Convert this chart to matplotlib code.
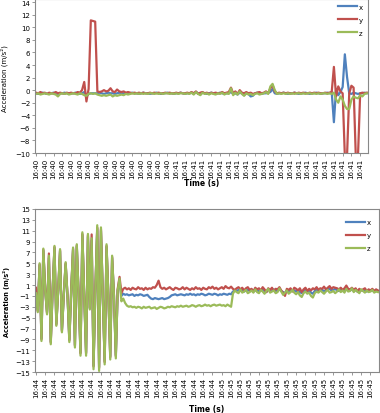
import matplotlib.pyplot as plt
import numpy as np

# ---- Data ----
# top chart: 16:40 -> 16:41, 4 samples per tick label
top_x = [-0.5, -0.6, -0.5, -0.4, -0.5, -0.6, -0.5, -0.5,
         -0.4, -0.5, -0.6, -0.5, -0.5, -0.4, -0.5, -0.6,
         -0.5, -0.5, -0.4, -0.5, -0.6, -0.5, -0.3, -1.0,
         -0.6, -0.5, -0.5, -0.5, -0.5, -0.4, -0.5, -0.6,
         -0.5, -0.4, -0.5, -0.5, -0.6, -0.5, -0.4, -0.5,
         -0.5, -0.6, -0.5, -0.5, -0.4, -0.5, -0.5, -0.6,
         -0.5, -0.4, -0.5, -0.5, -0.6, -0.5, -0.5, -0.4,
         -0.5, -0.6, -0.5, -0.5, -0.4, -0.5, -0.5, -0.6,
         -0.5, -0.5, -0.4, -0.5, -0.6, -0.5, -0.5, -0.4,
         -0.6, -0.3, -0.5, -0.7, -0.4, -0.5, -0.6, -0.5,
         -0.4, -0.5, -0.6, -0.5, -0.4, -0.5, -0.6, -0.5,
         -0.5, -0.3, -0.6, -0.5, -0.7, -0.4, -0.5, -0.8,
         -0.5, -0.6, -1.0, -0.9, -0.5, -0.4, -0.5, -0.6,
         -0.5, -0.5, -0.4, -0.3, 0.2, -0.5, -0.6, -0.5,
         -0.5, -0.4, -0.5, -0.6, -0.5, -0.5, -0.4, -0.5,
         -0.6, -0.5, -0.5, -0.4, -0.5, -0.6, -0.5, -0.5,
         -0.4, -0.5, -0.6, -0.5, -0.5, -0.4, -0.5, -0.3,
         -5.1, 0.2, -0.8, -0.3, 0.5, 5.7, 2.1, -0.5,
         -0.6, -0.4, -0.5, -0.6, -0.5, -0.5, -0.4, -0.5]
top_y = [-0.4, -0.5, -0.3, -0.5, -0.4, -0.6, -0.4, -0.5,
         -0.5, -0.3, -0.5, -0.4, -0.5, -0.6, -0.4, -0.5,
         -0.4, -0.5, -0.5, -0.3, -0.4, 0.0, 1.3, -1.8,
         0.2, 11.1, 11.0, 10.9, -0.2, -0.3, -0.2, 0.0,
         -0.2, -0.1, 0.3, -0.2, -0.3, 0.1, -0.2, -0.3,
         -0.2, -0.4, -0.3, -0.4, -0.5, -0.4, -0.5, -0.4,
         -0.5, -0.4, -0.5, -0.5, -0.4, -0.5, -0.4, -0.5,
         -0.4, -0.5, -0.5, -0.4, -0.5, -0.4, -0.5, -0.5,
         -0.4, -0.5, -0.4, -0.5, -0.5, -0.4, -0.5, -0.3,
         -0.5, -0.2, -0.6, -0.4, -0.3, -0.5, -0.4, -0.6,
         -0.4, -0.5, -0.4, -0.5, -0.5, -0.3, -0.5, -0.4,
         -0.3, 0.4, -0.5, -0.2, -0.6, 0.0, -0.4, -0.5,
         -0.3, -0.5, -0.4, -0.6, -0.5, -0.4, -0.3, -0.5,
         -0.4, -0.2, -0.5, 0.3, 0.8, -0.2, -0.5, -0.4,
         -0.5, -0.4, -0.5, -0.4, -0.5, -0.5, -0.4, -0.5,
         -0.4, -0.5, -0.4, -0.5, -0.5, -0.4, -0.5, -0.4,
         -0.5, -0.4, -0.5, -0.5, -0.4, -0.5, -0.4, -0.3,
         3.7, -1.0, 0.6, -0.2, -0.5, -10.5, -10.5, -0.5,
         0.7, 0.4, -10.5, -10.5, -0.5, -0.4, -0.5, -0.4]
top_z = [-0.6, -0.5, -0.7, -0.6, -0.5, -0.6, -0.7, -0.5,
         -0.6, -0.7, -1.0, -0.6, -0.5, -0.6, -0.5, -0.7,
         -0.6, -0.5, -0.6, -0.7, -0.5, -0.6, -0.8, -0.9,
         -0.6, -0.5, -0.6, -0.5, -0.7, -0.8, -0.9, -0.8,
         -0.9, -0.8, -0.7, -1.0, -0.8, -0.9, -0.8, -0.7,
         -0.8, -0.6, -0.7, -0.6, -0.5, -0.6, -0.5, -0.6,
         -0.5, -0.6, -0.5, -0.6, -0.5, -0.5, -0.6, -0.5,
         -0.6, -0.5, -0.6, -0.5, -0.5, -0.6, -0.5, -0.6,
         -0.5, -0.6, -0.5, -0.5, -0.6, -0.5, -0.6, -0.4,
         -0.7, -0.3, -0.6, -0.8, -0.4, -0.6, -0.5, -0.7,
         -0.5, -0.6, -0.7, -0.5, -0.6, -0.4, -0.7, -0.5,
         -0.6, 0.3, -0.8, -0.4, -0.7, -0.2, -0.6, -0.9,
         -0.5, -0.7, -0.6, -0.8, -0.6, -0.5, -0.7, -0.6,
         -0.5, -0.3, -0.6, 0.6, 1.0, 0.0, -0.6, -0.5,
         -0.6, -0.5, -0.6, -0.5, -0.6, -0.5, -0.6, -0.5,
         -0.5, -0.6, -0.5, -0.6, -0.5, -0.5, -0.6, -0.5,
         -0.6, -0.5, -0.6, -0.5, -0.5, -0.6, -0.5, -0.6,
         -0.4, -1.5, -2.0, -1.0, -1.5, -2.5, -3.0, -3.0,
         -1.5, -1.0, -1.2, -1.3, -0.8, -1.0, -0.6, -0.5]
top_labels = ['16:40'] * 16 + ['16:41'] * 22

# bottom chart: 16:44 -> 16:45, 5 samples per tick label
bot_x = [0.3, -3.6, 4.6, -8.8, 7.3, 0.1, -4.0, 6.0, -9.4, 0.0,
         7.8, -6.1, 0.0, 7.2, -7.3, -1.0, 4.8, -1.0, -9.0, 0.0,
         7.5, -10.0, 8.1, -1.0, -11.4, 10.2, -1.0, -11.4, 9.9, -3.3,
         9.2, -13.8, 0.0, 11.4, -14.1, 11.0, -1.0, -13.0, 8.0, -1.0,
         -12.1, 6.0, -1.0, -11.9, 0.0, 1.5, -1.0, -0.6, -0.8, -0.7,
         -0.9, -0.8, -0.7, -1.0, -0.8, -0.9, -0.7, -0.8, -1.0, -0.9,
         -0.8, -1.2, -1.5, -1.6, -1.4, -1.5, -1.6, -1.5, -1.4, -1.6,
         -1.5, -1.4, -1.2, -0.9, -0.8, -0.7, -0.9, -0.8, -0.7, -0.8,
         -0.9, -0.7, -0.8, -0.6, -0.8, -0.7, -0.9, -0.7, -0.8, -0.6,
         -0.7, -0.9, -0.8, -0.6, -0.7, -0.8, -0.6, -0.7, -0.9, -0.7,
         -0.8, -0.6, -0.7, -0.8, -0.6, -0.7, -0.2, 0.0, -0.1, 0.1,
         -0.1, 0.1, -0.2, 0.0, 0.1, -0.1, 0.2, -0.2, 0.0, 0.1,
         -0.2, 0.0, 0.1, -0.1, -0.3, 0.1, 0.0, -0.1, 0.2, -0.1,
         0.0, 0.2, -0.1, -0.3, -0.5, 0.0, -0.2, 0.1, -0.1, 0.0,
         -0.2, 0.1, -0.3, -0.5, -0.1, 0.2, -0.2, 0.0, -0.4, -0.6,
         -0.1, 0.1, -0.2, 0.0, 0.1, -0.1, 0.0, 0.2, 0.3, 0.0,
         0.1, 0.3, 0.0, -0.1, 0.2, -0.1, 0.0, 0.4, 0.1, 0.0,
         0.2, -0.1, 0.1, -0.2, 0.0, 0.1, -0.1, 0.0, -0.2, 0.1,
         -0.1, 0.0, -0.2, 0.1, -0.1]
bot_y = [0.5, -3.8, 4.8, -9.0, 7.5, 0.3, -4.2, 6.8, -9.6, 0.2,
         8.0, -6.3, 0.2, 7.4, -7.5, -0.8, 5.0, -0.8, -9.2, 0.3,
         7.7, -10.2, 8.3, -0.8, -11.6, 10.4, -0.8, -11.6, 10.2, -3.2,
         10.3, -14.0, 0.3, 11.6, -14.3, 11.3, -0.8, -13.2, 8.2, -0.8,
         -12.3, 6.2, -0.8, -12.1, 0.3, 2.5, -0.5, 0.3, 0.5, 0.2,
         0.4, 0.1, 0.5, 0.3, 0.2, 0.6, 0.3, 0.4, 0.1, 0.5,
         0.2, 0.4, 0.3, 0.6, 0.5, 1.0, 1.8, 0.6, 0.3, 0.5,
         0.2, 0.4, 0.6, 0.3, 0.1, 0.5, 0.4, 0.2, 0.3, 0.6,
         0.2, 0.5, 0.3, 0.1, 0.4, 0.2, 0.6, 0.3, 0.4, 0.1,
         0.5, 0.3, 0.2, 0.6, 0.4, 0.7, 0.3, 0.5, 0.2, 0.4,
         0.6, 0.3, 0.8, 0.5, 0.4, 0.7, 0.3, 0.1, 0.4, 0.6,
         0.2, 0.5, 0.0, 0.4, 0.6, 0.1, 0.3, -0.2, 0.5, 0.2,
         0.4, 0.0, 0.6, 0.2, -0.3, 0.4, 0.1, 0.5, -0.1, 0.3,
         0.2, 0.6, 0.0, -0.5, -1.0, 0.3, 0.1, 0.4, -0.2, 0.5,
         0.3, 0.0, 0.4, -0.3, 0.2, 0.5, -0.1, 0.3, 0.0, 0.4,
         0.2, 0.6, 0.1, 0.4, 0.3, 0.7, 0.2, 0.5, 0.8, 0.3,
         0.6, 0.5, 0.4, 0.2, 0.5, 0.1, 0.4, 0.9, 0.3, 0.2,
         0.5, 0.1, 0.4, -0.2, 0.3, 0.0, 0.2, 0.4, -0.1, 0.2,
         0.0, 0.3, -0.1, 0.2, 0.0]
bot_z = [-0.5, -4.0, 5.0, -9.3, 7.7, 0.0, -4.4, 6.4, -9.9, 0.0,
         8.2, -6.5, 0.0, 7.6, -7.7, -1.0, 5.2, -1.0, -9.5, 0.0,
         7.9, -10.5, 8.5, -1.0, -12.0, 10.7, -1.0, -12.0, 10.4, -3.5,
         9.6, -14.5, 0.0, 12.0, -14.8, 11.6, -1.0, -13.6, 8.5, -1.0,
         -12.7, 6.4, -1.0, -12.5, 0.0, 2.2, -2.0, -1.5, -2.3, -2.8,
         -3.0, -2.9, -3.1, -3.0, -3.2, -3.0, -3.1, -3.3, -3.0, -3.2,
         -3.1, -3.0, -3.3, -3.2, -3.1, -3.4, -3.2, -3.0, -3.1, -3.3,
         -3.2, -3.0, -3.1, -2.9, -3.0, -3.1, -2.9, -3.0, -2.8, -3.0,
         -2.9, -2.8, -3.0, -2.9, -2.7, -2.8, -3.0, -2.8, -2.7, -2.9,
         -2.8, -2.6, -2.8, -2.7, -2.9, -2.7, -2.6, -2.8, -2.7, -2.6,
         -2.8, -2.7, -2.9, -2.6, -2.8, -3.0, -0.6, 0.0, -0.3, -0.5,
         0.2, -0.4, -0.2, 0.1, -0.5, -0.3, 0.0, -0.4, 0.2, -0.3,
         -0.5, 0.1, -0.2, -0.6, -0.1, 0.3, -0.4, -0.2, 0.0, -0.5,
         -0.3, 0.4, -0.2, -0.8, -0.4, 0.0, -0.6, -0.3, 0.1, -0.4,
         -0.7, -0.3, -0.9, -1.2, -0.5, -0.2, -0.6, -0.4, -1.0, -1.3,
         -0.5, -0.2, -0.4, 0.0, -0.3, -0.6, -0.2, 0.1, -0.4, -0.3,
         -0.1, -0.5, -0.2, 0.2, -0.3, 0.0, -0.4, 0.3, -0.2, -0.1,
         0.4, -0.3, 0.1, -0.2, -0.5, 0.2, -0.1, -0.4, 0.0, -0.3,
         -0.2, 0.1, -0.4, -0.2, -0.3]
bot_labels = ['16:44'] * 20 + ['16:45'] * 17

colors = {'x': '#4F81BD', 'y': '#C0504D', 'z': '#9BBB59'}

fig = plt.figure(figsize=(3.8, 4.14), dpi=100)
ax1 = fig.add_axes([0.092, 0.628, 0.876, 0.372])
ax2 = fig.add_axes([0.092, 0.099, 0.905, 0.394])


def draw(ax, series, labels, step, ylim, yticks, legend_anchor, bold_ylabel):
    n = len(series[0])
    t = np.arange(n)
    for name, vals in zip(['x', 'y', 'z'], series):
        ax.plot(t, vals, color=colors[name], lw=1.6, label=name)
    ax.set_xlim(-0.5, n - 0.5)
    ax.set_ylim(*ylim)
    ax.set_yticks(yticks)
    ax.set_xticks(np.arange(0, n, step)[:len(labels)])
    ax.set_xticklabels(labels, rotation=90, fontsize=5)
    ax.tick_params(axis='y', labelsize=5, length=2, width=0.6, pad=1.5, color='#888888')
    ax.tick_params(axis='x', length=2, width=0.6, pad=1.5, color='#888888')
    for sp in ax.spines.values():
        sp.set_color('#888888')
        sp.set_linewidth(0.8)
    ax.set_xlabel('Time (s)', fontsize=5.5, fontweight='bold')
    if bold_ylabel:
        ax.set_ylabel('Acceleration (m/s²)', fontsize=4.7, fontweight='bold')
    else:
        ax.set_ylabel('Acceleration (m/s²)', fontsize=5)
    ax.legend(loc='upper right', bbox_to_anchor=legend_anchor, frameon=False,
              fontsize=5, handlelength=2.8, handletextpad=0.2, labelspacing=1.0,
              borderpad=0.2)


draw(ax1, [top_x, top_y, top_z], top_labels, 4, (-10, 14.5),
     np.arange(-10, 15, 2), (1.0, 1.0), False)
ax1.xaxis.set_label_coords(0.5, -0.165)
ax1.yaxis.set_label_coords(-0.08, 0.49)

draw(ax2, [bot_x, bot_y, bot_z], bot_labels, 5, (-15, 15),
     np.arange(-15, 16, 2), (0.99, 0.965), True)
ax2.xaxis.set_label_coords(0.5, -0.195)
ax2.yaxis.set_label_coords(-0.073, 0.435)

fig.savefig('out.png', dpi=100)
